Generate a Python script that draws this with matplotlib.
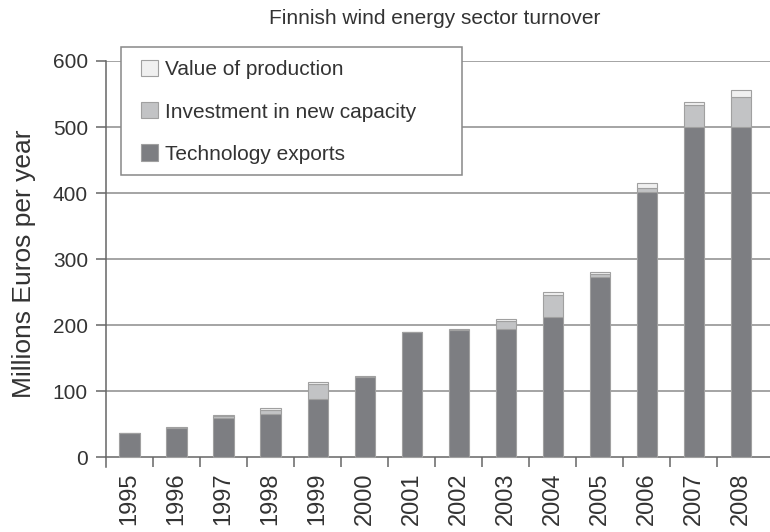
import numpy as np
import matplotlib.pyplot as plt
from matplotlib.patches import Rectangle

plt.rcParams['font.family'] = ['Liberation Sans', 'DejaVu Sans']

years = ['1995', '1996', '1997', '1998', '1999', '2000', '2001',
         '2002', '2003', '2004', '2005', '2006', '2007', '2008']
exports = [36, 44, 59, 65, 88, 122, 189, 192, 194, 212, 273, 402, 500, 500]
investment = [0, 0, 4, 7, 23, 0, 0, 1, 12, 34, 5, 6, 33, 45]
production = [1, 1, 1, 2, 3, 1, 1, 1, 3, 4, 3, 7, 5, 11]

c_exp = '#7d7e82'
c_inv = '#c2c3c5'
c_prod = '#f0f0f0'
edge = '#a0a0a0'
txt = '#333333'
grid_c = '#8c8c8c'

fig = plt.figure(figsize=(7.7, 5.32), dpi=100)
W, H = 770, 532
ax = fig.add_axes([106 / W, 1 - 467 / H, 1 - 106 / W, (467 - 61) / H])

x = np.arange(len(years))
exports = np.array(exports)
investment = np.array(investment)
production = np.array(production)
w = 0.43
b1 = ax.bar(x, exports, w, color=c_exp, edgecolor=edge, linewidth=0.8, zorder=3)
b2 = ax.bar(x, investment, w, bottom=exports, color=c_inv, edgecolor=edge, linewidth=0.8, zorder=3)
b3 = ax.bar(x, production, w, bottom=exports + investment, color=c_prod, edgecolor=edge, linewidth=0.8, zorder=3)

ax.set_xlim(-0.5, 13.62)
ax.set_ylim(-15, 600)
ax.set_yticks([0, 100, 200, 300, 400, 500, 600])
for v in [100, 200, 300, 400, 500, 600]:
    ax.axhline(v, color=grid_c, linewidth=1.1, zorder=1)

ax.spines['top'].set_visible(False)
ax.spines['right'].set_visible(False)
ax.spines['bottom'].set_position(('data', 0))
for s in ['left', 'bottom']:
    ax.spines[s].set_color('#666666')
    ax.spines[s].set_linewidth(1.1)

ax.set_xticks(x)
ax.set_xticklabels(years, rotation=90, fontsize=17, color=txt)
ax.set_xticks(np.arange(0.5, 13.5, 1), minor=True)
ax.tick_params(axis='x', which='major', length=0, pad=11)
ax.tick_params(axis='x', which='minor', length=7, width=1.1, color='#666666', direction='out')
ax.tick_params(axis='y', length=7, width=1.1, color='#666666', labelsize=15, labelcolor=txt, pad=6)

ax.set_ylabel('Millions Euros per year', fontsize=19, color=txt, labelpad=12)
fig.text(435 / W, 1 - 18 / H, 'Finnish wind energy sector turnover',
         fontsize=15, color=txt, ha='center', va='center')

# legend frame drawn separately so the padding matches
fig.patches.append(Rectangle((121 / W, 1 - 175 / H), (462 - 121) / W, (175 - 47) / H,
                             transform=fig.transFigure, facecolor='white',
                             edgecolor='#888888', linewidth=1.1, zorder=5))
leg = fig.legend([b3, b2, b1], ['Value of production', 'Investment in new capacity',
                                'Technology exports'],
                 loc='upper left', bbox_to_anchor=(141 / W, 1 - 60 / H),
                 bbox_transform=fig.transFigure, frameon=False, fontsize=15,
                 borderpad=0, borderaxespad=0, handlelength=0.82, handleheight=0.82,
                 handletextpad=0.35, labelspacing=1.1)
for t in leg.get_texts():
    t.set_color(txt)
leg.set_zorder(6)

fig.savefig('out.png', dpi=100)
